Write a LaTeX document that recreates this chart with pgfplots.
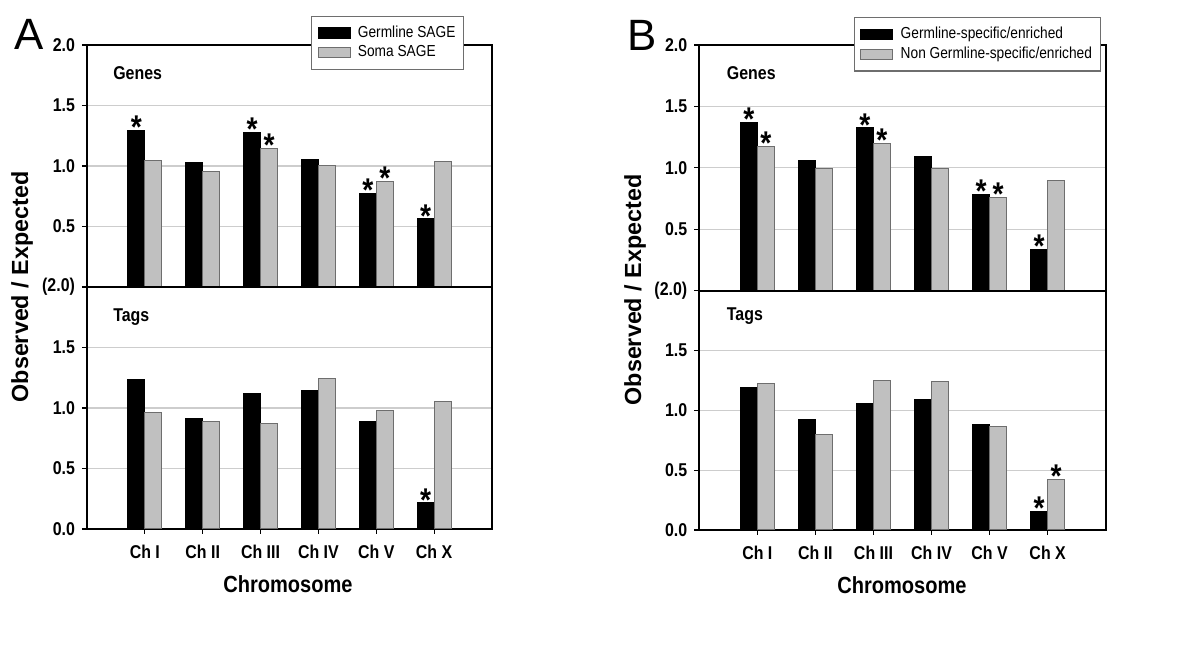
\documentclass[border=0pt]{standalone}
\usepackage{fontspec}
\setmainfont{Liberation Sans}[FakeStretch=0.86]
\newfontfamily\ylabfont{Liberation Sans}
\usepackage{pgfplots}
\usepackage{pgfplotstable}
\pgfplotsset{compat=1.18}

\definecolor{barfill}{RGB}{192,192,192}
\definecolor{barline}{RGB}{110,110,110}
\definecolor{gridc}{RGB}{205,205,205}

% x: chromosome index, g: germline value, gs: star on germline bar, s: other value, ss: star on it
\pgfplotstableread{
x g gs s ss
0 1.295 1 1.044 0
1 1.033 0 0.956 0
2 1.275 1 1.146 1
3 1.055 0 1.008 0
4 0.774 1 0.873 1
5 0.562 1 1.036 0
}\genesA
\pgfplotstableread{
x g gs s ss
0 1.235 0 0.962 0
1 0.912 0 0.888 0
2 1.119 0 0.871 0
3 1.144 0 1.243 0
4 0.888 0 0.978 0
5 0.215 1 1.053 0
}\tagsA
\pgfplotstableread{
x g gs s ss
0 1.369 1 1.176 1
1 1.057 0 0.995 0
2 1.325 1 1.198 1
3 1.095 0 0.995 0
4 0.780 1 0.756 1
5 0.339 1 0.898 0
}\genesB
\pgfplotstableread{
x g gs s ss
0 1.189 0 1.222 0
1 0.923 0 0.798 0
2 1.058 0 1.250 0
3 1.092 0 1.239 0
4 0.883 0 0.864 0
5 0.158 1 0.422 1
}\tagsB

\pgfplotsset{
  star/.style={point meta=explicit symbolic,
    nodes near coords={\if1\pgfplotspointmeta *\fi},
    every node near coord/.append style={inner sep=0pt, yshift=-4.3bp, xshift=#1,
      font=\bfseries\fontsize{16.5}{16.5}\selectfont}},
  blk/.style={ybar, bar width=0.293, bar shift=-0.1465, fill=black, draw=black,
    line width=0.5bp, star=-4.25bp,
    legend image code/.code={\draw[fill=black, draw=black] (0bp,-2.6bp) rectangle (16bp,2.6bp);}},
  gry/.style={ybar, bar width=0.293, bar shift=0.1465, fill=barfill, draw=barline,
    line width=0.5bp, star=4.25bp,
    legend image code/.code={\draw[fill=barfill, draw=barline, line width=0.5bp] (0bp,-2.6bp) rectangle (16bp,2.6bp);}},
  panel/.style={scale only axis, xmin=-1, xmax=6, ymin=0, ymax=2,
    axis line style={line width=1bp},
    ymajorgrids, grid style={gridc, line width=0.6bp},
    tick style={black, line width=0.6bp}, tick align=outside, major tick length=2.5bp,
    ytick pos=left, xtick pos=bottom,
    tick label style={font=\bfseries\fontsize{9.3}{10}\selectfont},
    /pgf/number format/assume math mode=true,
    /pgf/number format/fixed, /pgf/number format/fixed zerofill,
    /pgf/number format/precision=1,
    clip=false},
  toppanel/.style={panel, anchor=south west, xtick=\empty, ytick={0.5,1,1.5,2},
    legend cell align=left,
    legend style={anchor=north west, draw=barline, line width=0.6bp, fill=white,
      font=\fontsize{8}{9}\selectfont, inner xsep=3bp, inner ysep=3.5bp,
      nodes={inner sep=1.2bp, text height=5.8bp, text depth=1.6bp},
      /tikz/every odd column/.append style={column sep=2.5bp}}},
  botpanel/.style={panel, anchor=south west, xtick={0,...,5},
    xticklabels={Ch I, Ch II, Ch III, Ch IV, Ch V, Ch X},
    ytick={0,0.5,1,1.5,2}, yticklabels={0.0,0.5,1.0,1.5,(2.0)},
    xticklabel style={yshift=-2bp}}
}
\tikzset{lab/.style={font=\bfseries\fontsize{9.3}{10}\selectfont, anchor=west, inner sep=0pt}}

\begin{document}
\begin{tikzpicture}
\path (0bp,0bp) rectangle (600bp,328bp);

% ---------- Panel A ----------
\begin{axis}[toppanel, at={(43.5bp,184.5bp)}, width=202.5bp, height=121bp,
  legend style={at={(0.553,1.121)}}]
  \addplot[blk] table[x=x, y=g, meta=gs] {\genesA};
  \addlegendentry{Germline SAGE}
  \addplot[gry] table[x=x, y=s, meta=ss] {\genesA};
  \addlegendentry{Soma SAGE}
  \node[lab] at (rel axis cs:0.064,0.884) {Genes};
\end{axis}
\begin{axis}[botpanel, at={(43.5bp,63.5bp)}, width=202.5bp, height=121bp]
  \addplot[blk] table[x=x, y=g, meta=gs] {\tagsA};
  \addplot[gry] table[x=x, y=s, meta=ss] {\tagsA};
  \node[lab] at (rel axis cs:0.064,0.876) {Tags};
\end{axis}
\node[font=\ylabfont\fontsize{22}{22}\selectfont] at (14.5bp,311bp) {A};
\node[rotate=90, font=\ylabfont\bfseries\fontsize{11.7}{12}\selectfont] at (11bp,184.5bp) {Observed / Expected};
\node[font=\bfseries\fontsize{11.7}{12}\selectfont] at (144bp,36bp) {Chromosome};

% ---------- Panel B ----------
\begin{axis}[toppanel, at={(349.65bp,182.65bp)}, width=203.2bp, height=122.85bp,
  legend style={at={(0.380,1.113)}}]
  \addplot[blk] table[x=x, y=g, meta=gs] {\genesB};
  \addlegendentry{Germline-specific/enriched}
  \addplot[gry] table[x=x, y=s, meta=ss] {\genesB};
  \addlegendentry{Non Germline-specific/enriched}
  \node[lab] at (rel axis cs:0.067,0.887) {Genes};
\end{axis}
\begin{axis}[botpanel, at={(349.65bp,63bp)}, width=203.2bp, height=119.65bp]
  \addplot[blk] table[x=x, y=g, meta=gs] {\tagsB};
  \addplot[gry] table[x=x, y=s, meta=ss] {\tagsB};
  \node[lab] at (rel axis cs:0.067,0.894) {Tags};
\end{axis}
\node[font=\ylabfont\fontsize{22}{22}\selectfont] at (321bp,310.5bp) {B};
\node[rotate=90, font=\ylabfont\bfseries\fontsize{11.7}{12}\selectfont] at (317.5bp,183bp) {Observed / Expected};
\node[font=\bfseries\fontsize{11.7}{12}\selectfont] at (451bp,35.5bp) {Chromosome};
\end{tikzpicture}
\end{document}
